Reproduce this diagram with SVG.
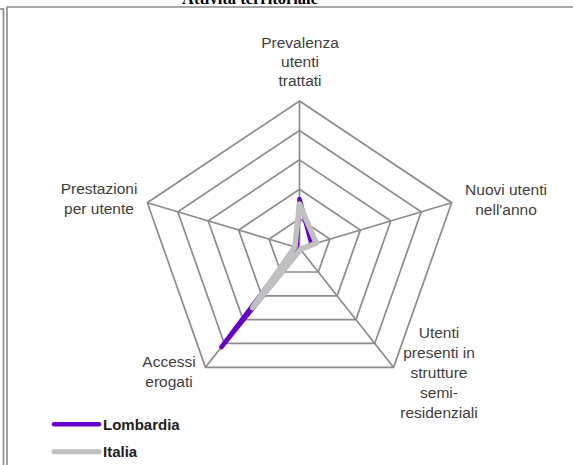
<svg xmlns="http://www.w3.org/2000/svg" width="573" height="465" viewBox="0 0 573 465">
<style>
.frame{fill:none;stroke:#8a8a8a;stroke-width:1.6}
.grid{fill:none;stroke:#8c8c8c;stroke-width:1.7;stroke-linejoin:miter}
.lab{font-family:"Liberation Sans",Arial,sans-serif;font-size:15.5px;fill:#404040;text-anchor:middle}
.leg{font-family:"Liberation Sans",Arial,sans-serif;font-size:15px;font-weight:bold;fill:#1e1e1e}
.title{font-family:"Liberation Serif","Times New Roman",serif;font-size:16.5px;font-weight:bold;fill:#000;text-anchor:middle}
.lom{fill:none;stroke:#6600cc;stroke-width:4.5;stroke-linejoin:round;stroke-linecap:round}
.ita{fill:none;stroke:#c0c0c0;stroke-width:5.5;stroke-linejoin:round;stroke-linecap:round}
</style>
<rect width="573" height="465" fill="#fff"/>
<text class="title" x="250" y="3.5">Attività territoriale</text>
<path class="frame" d="M0,9 H3.5 V465"/>
<path class="frame" d="M7,465 V7 H573"/>
<g id="grid">
<polygon class="grid" points="299.5,101 451.67,202.71 393.55,367.29 205.45,367.29 147.33,202.71"/>
<polygon class="grid" points="299.5,130.44 421.24,211.81 374.74,343.47 224.26,343.47 177.76,211.81"/>
<polygon class="grid" points="299.5,159.88 390.8,220.91 355.93,319.65 243.07,319.65 208.2,220.91"/>
<polygon class="grid" points="299.5,189.32 360.37,230 337.12,295.84 261.88,295.84 238.63,230"/>
<polygon class="grid" points="299.5,218.76 329.93,239.1 318.31,272.02 280.69,272.02 269.07,239.1"/>
<path class="grid" d="M299.5,248.2 L299.5,101 M299.5,248.2 L451.67,202.71 M299.5,248.2 L393.55,367.29 M299.5,248.2 L205.45,367.29 M299.5,248.2 L147.33,202.71"/>
</g>
<g id="labels">
<g id="lbl-prevalenza"><text class="lab" x="300" y="47.5">Prevalenza</text><text class="lab" x="300" y="66.5">utenti</text><text class="lab" x="300" y="85.5">trattati</text></g>
<g id="lbl-nuovi"><text class="lab" x="506" y="194.5">Nuovi utenti</text><text class="lab" x="506" y="214.5">nell'anno</text></g>
<g id="lbl-presenti"><text class="lab" x="439" y="337.5">Utenti</text><text class="lab" x="439" y="357.5">presenti in</text><text class="lab" x="439" y="377.5">strutture</text><text class="lab" x="439" y="397.5">semi-</text><text class="lab" x="439" y="417.5">residenziali</text></g>
<g id="lbl-accessi"><text class="lab" x="169" y="367">Accessi</text><text class="lab" x="169" y="386.5">erogati</text></g>
<g id="lbl-prestazioni"><text class="lab" x="99" y="193.5">Prestazioni</text><text class="lab" x="99" y="213.5">per utente</text></g>
</g>
<g id="series">
<polygon id="lombardia" class="lom" points="299.5,199 311.7,244.6 300.4,249.4 221.4,347 296.5,247.3"/>
<polygon id="italia" class="ita" points="299.5,204 316.2,243.2 300.4,249.4 252.5,307.7 294.9,246.8"/>
</g>
<g id="legend">
<line class="lom" x1="54" y1="424.3" x2="99" y2="424.3"/>
<text class="leg" x="103" y="429.5">Lombardia</text>
<line class="ita" x1="54" y1="451.7" x2="99" y2="451.7" style="stroke-width:5"/>
<text class="leg" x="103" y="457">Italia</text>
</g>
</svg>
